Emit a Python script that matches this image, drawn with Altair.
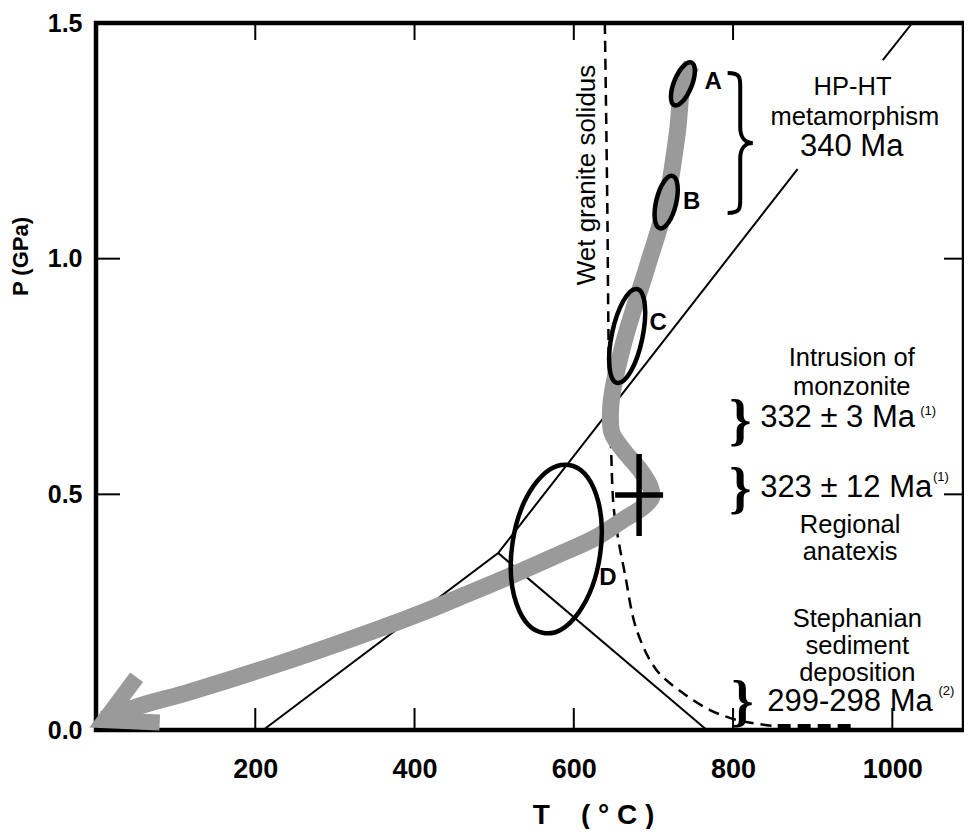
import altair as alt
import pandas as pd

# ---------------- data (T in deg C, P in GPa) ----------------
# P-T path (grey arrow), from top (A) to the arrow tip
path_T = [748, 737, 730, 716, 692, 671, 662, 649, 646, 648, 662, 683, 696, 698, 687, 662, 629, 574, 511, 457, 411, 348, 244, 118, 55, 9]
path_P = [1.411, 1.371, 1.267, 1.120, 0.982, 0.870, 0.817, 0.721, 0.673, 0.630, 0.594, 0.552, 0.516, 0.494,
          0.473, 0.446, 0.4095, 0.367, 0.320, 0.282, 0.250, 0.210, 0.1485, 0.081, 0.051, 0.023]
# arrow head (upper arm end, tip, lower arm end)
head_T = [51, 11, 80]
head_P = [0.112, 0.021, 0.016]

# wet granite solidus (dashed)
sol_T = [639, 642, 644, 647, 650, 656, 664, 679, 704, 737, 771, 805, 852]
sol_P = [1.5, 1.124, 0.785, 0.588, 0.473, 0.403, 0.333, 0.212, 0.127, 0.0785, 0.0424, 0.0212, 0.008]
sol_base_T = [856, 953]
sol_base_P = [0.0074, 0.0074]

# straight reaction lines (segment id, T, P)
line_seg = ["a", "a", "a", "b", "b", "c", "c"]
line_T = [210, 505, 881, 988, 1025, 505, 767]
line_P = [0.0, 0.3755, 1.190, 1.421, 1.5, 0.3755, 0.0]

# ellipses A-D (centres)
ell_T = [737, 716, 667, 578]
ell_P = [1.371, 1.120, 0.836, 0.384]

# letters
let_txt = ["A", "B", "C", "D"]
let_T = [775, 748, 706, 643]
let_P = [1.375, 1.120, 0.8635, 0.3225]

# cross
cross_T = [682]
cross_P = [0.4986]

# annotation texts
note_txt = ["HP-HT", "metamorphism", "Intrusion of", "monzonite", "Regional", "anatexis",
            "Stephanian", "sediment", "deposition"]
note_T = [950, 953, 949, 949, 947, 947, 956, 956, 956]
note_P = [1.364, 1.300, 0.789, 0.728, 0.435, 0.378, 0.2355, 0.178, 0.121]

age_txt = ["332 ± 3 Ma", "323 ± 12 Ma", "299-298 Ma"]
age_T = [834, 834, 843]
age_P = [0.662, 0.513, 0.059]
age340_txt = ["340 Ma"]
age340_T = [949]
age340_P = [1.237]

sup_txt = ["(1)", "(1)", "(2)"]
sup_T = [1035, 1051, 1058]
sup_P = [0.677, 0.537, 0.083]

brace_T = [809, 809, 812]
brace_P = [0.6535, 0.509, 0.0573]
big_brace_T = [809]
big_brace_P = [1.2454]

solidus_label_T = [617]
solidus_label_P = [1.1775]

x_ticks = [200, 400, 600, 800, 1000]
x_top_ticks = [200, 400, 600, 800]
y_ticks = [0.5, 1.0]

# ---------------- styles ----------------
W, H = 868, 707
GREY = "#9a9a9a"
SANS = "Liberation Sans, Arial, sans-serif"
NB = "\u00a0"

ell_semi_major = [23, 27, 48, 85]
ell_ratio = [0.39, 0.37, 0.32, 0.52]
ell_angle = [22, 13.5, 12, 8.5]


def ellipse_path(r):
    k = 0.5523
    return (f"M 0,-1 C {k*r:.4f},-1 {r:.4f},{-k:.4f} {r:.4f},0 "
            f"C {r:.4f},{k:.4f} {k*r:.4f},1 0,1 "
            f"C {-k*r:.4f},1 {-r:.4f},{k:.4f} {-r:.4f},0 "
            f"C {-r:.4f},{-k:.4f} {-k*r:.4f},-1 0,-1 Z")


BRACE_PATH = ("M -0.18,-1 C 0.02,-1 0,-0.92 0,-0.75 L 0,-0.22 C 0,-0.07 0.08,0 0.18,0 "
              "C 0.08,0 0,0.07 0,0.22 L 0,0.75 C 0,0.92 0.02,1 -0.18,1")
CROSS_PATH = "M -0.585,0 L 0.585,0 M 0,-1 L 0,1"

x_title = "T" + NB * 4 + "(" + NB + "°" + NB + "C" + NB + ")"

X = alt.X("T:Q", scale=alt.Scale(domain=[0, 1090], nice=False, zero=False),
          axis=alt.Axis(values=x_ticks, format="d", ticks=False, domain=False, grid=False,
                        labelFont=SANS, labelFontSize=27, labelFontWeight="bold",
                        labelColor="black", labelPadding=26, labelFlush=False,
                        title=x_title, titleFont=SANS, titleFontSize=28,
                        titleFontWeight="bold", titleColor="black",
                        titleX=497, titleY=93, titleBaseline="alphabetic", titleAlign="center"))
Y = alt.Y("P:Q", scale=alt.Scale(domain=[0, 1.5], nice=False, zero=False),
          axis=alt.Axis(values=[0, 0.5, 1.0, 1.5], format=".1f", ticks=False, domain=False,
                        grid=False, labelFont=SANS, labelFontSize=25, labelFontWeight="bold",
                        labelColor="black", labelPadding=14,
                        title="P (GPa)", titleFont=SANS, titleFontSize=22, titleFontWeight="bold",
                        titleColor="black", titleX=-76, titleY=233, titleAngle=270,
                        titleBaseline="middle", titleAlign="center"))

# ---------------- layers ----------------
df_lines = pd.DataFrame({"seg": line_seg, "T": line_T, "P": line_P, "i": range(len(line_T))})
lines = alt.Chart(df_lines).mark_line(color="black", strokeWidth=2).encode(
    x=X, y=Y, detail="seg:N", order="i:Q")

df_sol = pd.DataFrame({"T": sol_T, "P": sol_P, "i": range(len(sol_T))})
solidus = alt.Chart(df_sol).mark_line(color="black", strokeWidth=2.5, strokeDash=[11, 7],
                                      interpolate="catmull-rom").encode(x=X, y=Y, order="i:Q")

df_solb = pd.DataFrame({"T": sol_base_T, "P": sol_base_P})
solidus_base = alt.Chart(df_solb).mark_line(color="black", strokeWidth=5, strokeDash=[13, 7]).encode(
    x=X, y=Y)

df_path = pd.DataFrame({"T": path_T, "P": path_P, "i": range(len(path_T))})
ptpath = alt.Chart(df_path).mark_line(color=GREY, strokeWidth=17, strokeCap="butt",
                                      interpolate="catmull-rom").encode(x=X, y=Y, order="i:Q")

df_head = pd.DataFrame({"T": head_T, "P": head_P, "i": range(len(head_T))})
head = alt.Chart(df_head).mark_line(color=GREY, strokeWidth=16, strokeCap="butt",
                                    strokeJoin="miter").encode(x=X, y=Y, order="i:Q")

df_ell = pd.DataFrame({
    "T": ell_T, "P": ell_P,
    "shp": [ellipse_path(r) for r in ell_ratio],
    "sz": [4 * a * a for a in ell_semi_major],
    "ang": ell_angle,
})
ellipses = alt.Chart(df_ell).mark_point(filled=False, color="black", strokeWidth=4.5, opacity=1).encode(
    x=X, y=Y, shape=alt.Shape("shp:N", scale=None), size=alt.Size("sz:Q", scale=None),
    angle=alt.Angle("ang:Q", scale=None))

df_cross = pd.DataFrame({"T": cross_T, "P": cross_P})
cross = alt.Chart(df_cross).mark_point(shape=CROSS_PATH, size=82 * 82, filled=False, color="black",
                                       strokeWidth=5.5, opacity=1).encode(x=X, y=Y)

df_bb = pd.DataFrame({"T": big_brace_T, "P": big_brace_P})
big_brace = alt.Chart(df_bb).mark_point(shape=BRACE_PATH, size=140 * 140, filled=False, color="black",
                                        strokeWidth=4, opacity=1).encode(x=X, y=Y)

df_br = pd.DataFrame({"T": brace_T, "P": brace_P, "txt": ["}"] * len(brace_T)})
braces = alt.Chart(df_br).mark_text(font="Liberation Serif, serif", fontSize=56, fontWeight="bold",
                                    align="center", baseline="middle", color="black").encode(
    x=X, y=Y, text="txt:N")

df_let = pd.DataFrame({"T": let_T, "P": let_P, "txt": let_txt})
letters = alt.Chart(df_let).mark_text(font=SANS, fontSize=24, fontWeight="bold", align="center",
                                      baseline="middle", color="black").encode(x=X, y=Y, text="txt:N")

df_note = pd.DataFrame({"T": note_T, "P": note_P, "txt": note_txt})
notes = alt.Chart(df_note).mark_text(font=SANS, fontSize=25.5, align="center", baseline="middle",
                                     color="black").encode(x=X, y=Y, text="txt:N")

df_a340 = pd.DataFrame({"T": age340_T, "P": age340_P, "txt": age340_txt})
age340 = alt.Chart(df_a340).mark_text(font=SANS, fontSize=31, align="center", baseline="middle",
                                      color="black").encode(x=X, y=Y, text="txt:N")

df_age = pd.DataFrame({"T": age_T, "P": age_P, "txt": age_txt})
ages = alt.Chart(df_age).mark_text(font=SANS, fontSize=31, align="left", baseline="middle",
                                   color="black").encode(x=X, y=Y, text="txt:N")

df_sup = pd.DataFrame({"T": sup_T, "P": sup_P, "txt": sup_txt})
sups = alt.Chart(df_sup).mark_text(font=SANS, fontSize=13, align="left", baseline="middle",
                                   color="black").encode(x=X, y=Y, text="txt:N")

df_sl = pd.DataFrame({"T": solidus_label_T, "P": solidus_label_P, "txt": ["Wet granite solidus"]})
sol_label = alt.Chart(df_sl).mark_text(font=SANS, fontSize=26, angle=270, align="center",
                                       baseline="middle", color="black").encode(x=X, y=Y, text="txt:N")

# inward ticks
df_xt = pd.DataFrame({"T": x_ticks})
xt_bottom = alt.Chart(df_xt).mark_rule(color="black", strokeWidth=2).encode(
    x=X, y=alt.value(H - 22), y2=alt.value(H))
df_xtt = pd.DataFrame({"T": x_top_ticks})
xt_top = alt.Chart(df_xtt).mark_rule(color="black", strokeWidth=2).encode(
    x=X, y=alt.value(0), y2=alt.value(17))
df_yt = pd.DataFrame({"P": y_ticks})
yt_left = alt.Chart(df_yt).mark_rule(color="black", strokeWidth=2).encode(
    y=Y, x=alt.value(0), x2=alt.value(24))
yt_right = alt.Chart(df_yt).mark_rule(color="black", strokeWidth=2).encode(
    y=Y, x=alt.value(W - 20), x2=alt.value(W))

chart = alt.layer(
    lines, solidus, solidus_base, ptpath, head, ellipses, cross, big_brace, braces,
    letters, notes, age340, ages, sups, sol_label, xt_bottom, xt_top, yt_left, yt_right
).properties(
    width=W, height=H,
    autosize=alt.AutoSizeParams(type="none"),
    padding={"left": 88, "top": 15, "right": 0, "bottom": 99},
    background="white",
).configure_view(stroke="black", strokeWidth=4.5)

chart.save("out.html", embed_options={"renderer": "svg", "actions": False})
